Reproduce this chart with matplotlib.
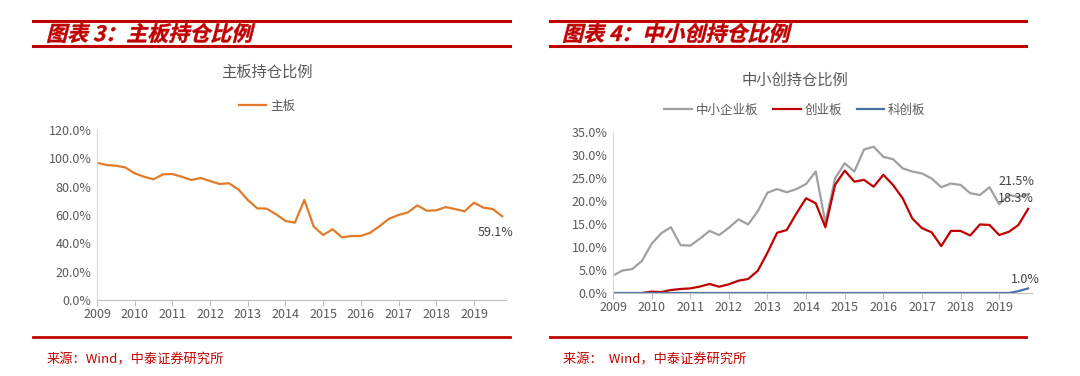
import numpy as np
import matplotlib
matplotlib.use("Agg")
import matplotlib.pyplot as plt
from matplotlib.lines import Line2D
from matplotlib.patches import PathPatch
from matplotlib.textpath import TextPath
from matplotlib.font_manager import FontProperties
from matplotlib.transforms import Affine2D
from matplotlib.ticker import FuncFormatter

plt.rcParams['font.family'] = ['Noto Sans CJK SC', 'DejaVu Sans']

# quarterly, 2009Q1 .. 2019Q4
quarters = 2009 + np.arange(44) / 4
years = list(range(2009, 2020))

main_board = [96.9, 95.3, 94.8, 93.6, 89.4, 87.0, 85.2, 88.7, 88.9, 87.0, 84.7, 86.1,
              84.0, 81.9, 82.4, 78.1, 70.6, 64.7, 64.5, 60.5, 55.8, 54.6, 70.6, 51.8,
              45.9, 49.9, 44.2, 45.2, 45.2, 47.5, 52.2, 57.4, 60.0, 61.9, 66.8, 63.0,
              63.3, 65.6, 64.2, 62.6, 68.7, 65.2, 64.2, 59.1]

sme_board = [3.8, 4.9, 5.2, 7.0, 10.7, 13.0, 14.3, 10.4, 10.3, 11.8, 13.5, 12.6,
             14.2, 16.0, 14.9, 17.8, 21.8, 22.6, 21.9, 22.6, 23.7, 26.4, 15.3, 24.9,
             28.2, 26.4, 31.2, 31.8, 29.6, 29.1, 27.1, 26.4, 26.0, 24.9, 23.0, 23.8,
             23.5, 21.7, 21.3, 23.0, 19.3, 21.3, 20.9, 21.5]

gem_board = [np.nan, np.nan, np.nan, 0.0, 0.3, 0.2, 0.65, 0.87, 1.0, 1.4, 1.96, 1.37,
             1.88, 2.68, 3.04, 4.85, 8.77, 13.1, 13.7, 17.3, 20.6, 19.5, 14.3, 23.5,
             26.6, 24.2, 24.6, 23.1, 25.7, 23.5, 20.6, 16.2, 14.1, 13.2, 10.2, 13.5,
             13.5, 12.5, 14.9, 14.8, 12.6, 13.3, 14.8, 18.3]

star_board = [0.0] * 42 + [0.4, 1.0]

W, H = 1080, 376
RED = '#C00000'
fig = plt.figure(figsize=(W / 100, H / 100), dpi=100)


def hline(x0, x1, y, lw):
    fig.add_artist(Line2D([x0 / W, x1 / W], [1 - y / H, 1 - y / H],
                          transform=fig.transFigure, color=RED, lw=lw))


def italic_title(s, x0, base_y, size):
    fp = FontProperties(family='Noto Sans CJK SC', weight='bold')
    tp = TextPath((0, 0), s, size=size, prop=fp)
    tr = (Affine2D().skew_deg(14, 0).translate(x0, H - base_y)
          .scale(1 / W, 1 / H) + fig.transFigure)
    fig.add_artist(PathPatch(tp, transform=tr, facecolor=RED, edgecolor=RED, lw=0.3))


def style_axes(ax, ymax, ystep, xmax):
    ax.set_xlim(2009, xmax)
    ax.set_ylim(0, ymax)
    ax.set_xticks(years)
    ax.set_xticklabels([str(y) for y in years])
    ax.set_yticks(np.arange(0, ymax + 0.01, ystep))
    ax.yaxis.set_major_formatter(FuncFormatter(lambda v, p: '%.1f%%' % v))
    for s in ['top', 'right']:
        ax.spines[s].set_visible(False)
    ax.spines['left'].set_color('#D9D9D9')
    ax.spines['bottom'].set_color('#BFBFBF')
    ax.tick_params(axis='x', length=4, color='#BFBFBF', labelsize=9,
                   labelcolor='#595959', pad=2)
    ax.tick_params(axis='y', length=0, labelsize=9, labelcolor='#595959', pad=4)


# header / footer decorations
hline(33, 510, 21, 2.2)
hline(33, 510, 46, 2.2)
hline(550, 1026, 21, 2.2)
hline(550, 1026, 46, 2.2)
hline(33, 510, 337, 2.0)
hline(550, 1026, 337, 2.0)
italic_title('图表 3：主板持仓比例', 46, 41, 21)
italic_title('图表 4：中小创持仓比例', 562, 41, 21)
fig.text(47 / W, 1 - 360 / H, '来源：Wind，中泰证券研究所', color=RED,
         fontsize=9.5, va='center', ha='left')
fig.text(563 / W, 1 - 360 / H, '来源：  Wind，中泰证券研究所', color=RED,
         fontsize=9.5, va='center', ha='left')

# left chart
ax1 = fig.add_axes([97 / W, 76 / H, 409 / W, 170 / H])
ax1.plot(quarters, main_board, color='#E07B2B', lw=1.6, label='主板')
style_axes(ax1, 120, 20, 2019.85)
ax1.annotate('59.1%', xy=(quarters[-1], main_board[-1]), xytext=(-7, -16),
             textcoords='offset pixels', ha='center', va='center',
             fontsize=9, color='#404040')
fig.text(267 / W, 1 - 72 / H, '主板持仓比例', ha='center', va='center',
         fontsize=11, color='#595959')
ax1.legend(loc='center', bbox_to_anchor=(267 / W, 1 - 106 / H),
           bbox_transform=fig.transFigure, frameon=False, fontsize=9,
           handlelength=2.2, handletextpad=0.3, labelcolor='#595959')

# right chart
ax2 = fig.add_axes([613 / W, 83 / H, 419 / W, 161 / H])
ax2.plot(quarters, sme_board, color='#A0A0A0', lw=1.6, label='中小企业板')
ax2.plot(quarters, gem_board, color=RED, lw=1.6, label='创业板')
ax2.plot(quarters, star_board, color='#4A6FA5', lw=1.6, label='科创板')
style_axes(ax2, 35, 5, 2019.85)
ax2.annotate('21.5%', xy=(quarters[-1], sme_board[-1]), xytext=(-12, 13),
             textcoords='offset pixels', ha='center', va='center',
             fontsize=9, color='#404040')
ax2.annotate('18.3%', xy=(quarters[-1], gem_board[-1]), xytext=(-12, 10),
             textcoords='offset pixels', ha='center', va='center',
             fontsize=9, color='#404040')
ax2.annotate('1.0%', xy=(quarters[-1], star_board[-1]), xytext=(-3, 9),
             textcoords='offset pixels', ha='center', va='center',
             fontsize=9, color='#404040')
fig.text(795 / W, 1 - 80 / H, '中小创持仓比例', ha='center', va='center',
         fontsize=11, color='#595959')
ax2.legend(loc='center', bbox_to_anchor=(795 / W, 1 - 110 / H),
           bbox_transform=fig.transFigure, frameon=False, fontsize=9, ncol=3,
           handlelength=2.2, handletextpad=0.3, columnspacing=1.2,
           labelcolor='#595959')

fig.savefig('out.png', dpi=100)
